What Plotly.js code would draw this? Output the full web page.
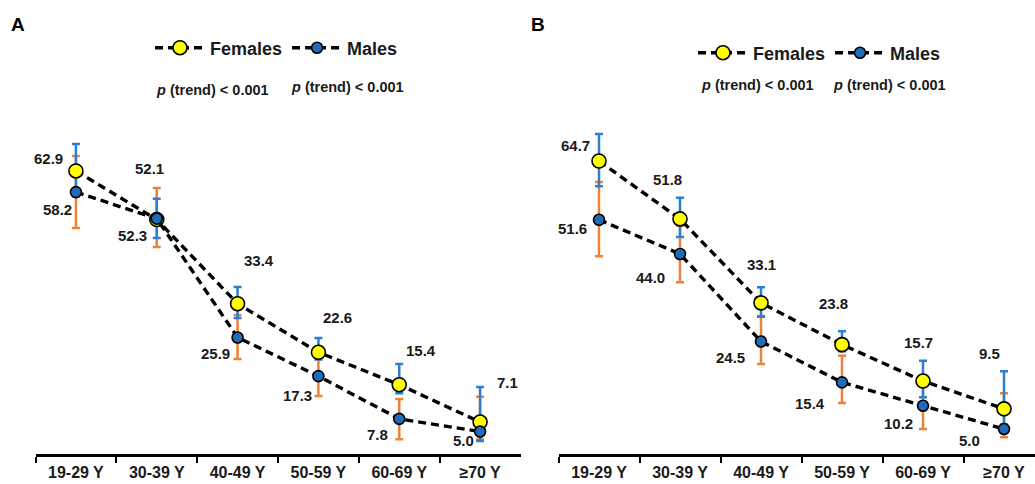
<!DOCTYPE html>
<html>
<head>
<meta charset="utf-8">
<script src="https://cdn.plot.ly/plotly-3.0.1.min.js"></script>
<style>html,body{margin:0;padding:0;background:#fff;}#chart{width:1035px;height:484px;}</style>
</head>
<body>
<div id="chart"></div>
<script>
// ---------- DATA ----------
const ageGroups = ["19-29 Y", "30-39 Y", "40-49 Y", "50-59 Y", "60-69 Y", "\u226570 Y"];

// Panel A
const femalesA   = [62.9, 52.1, 33.4, 22.6, 15.4, 7.1];
const femalesALo = [57.3, 48.0, 30.2, 21.0, 13.5, 2.9];
const femalesAHi = [68.9, 56.7, 37.1, 25.8, 20.0, 14.9];
const malesA     = [58.2, 52.3, 25.9, 17.3, 7.8, 5.0];
const malesALo   = [50.2, 46.0, 21.1, 12.9, 3.3, 3.3];
const malesAHi   = [66.2, 59.1, 30.9, 21.5, 12.2, 12.7];

// Panel B
const femalesB   = [64.7, 51.8, 33.1, 23.8, 15.7, 9.5];
const femalesBLo = [59.1, 47.8, 30.0, 22.3, 12.1, 6.0];
const femalesBHi = [70.7, 56.5, 36.6, 26.8, 20.2, 17.9];
const malesB     = [51.6, 44.0, 24.5, 15.4, 10.2, 5.0];
const malesBLo   = [43.5, 37.7, 19.5, 10.8, 5.0, 3.2];
const malesBHi   = [60.0, 50.3, 30.2, 21.3, 15.0, 13.0];

const pTrendText = "<i>p</i> (trend) &lt; 0.001";

// ---------- STYLE / LABEL PLACEMENT (pixel offsets, not data) ----------
const labelShiftFA = [[-27, 12], [-7, 51], [21, 43], [19, 35], [22, 34], [27, 40]];
const labelShiftMA = [[-18, -17], [-24, -17], [-22, -16], [-21, -19], [-22, -16], [-17, -9]];
const labelShiftFB = [[-24, 16], [-13, 39], [0, 38], [-9, 41], [-5, 39], [-15, 55]];
const labelShiftMB = [[-27, -9], [-30, -24], [-31, -16], [-32, -21], [-25, -18], [-35, -11]];

const FONT = "'Liberation Sans', Arial, sans-serif";
const TXT = "#1a1a1a";
const YELLOW = "#FFFF00";
const BLUE_MK = "#1F6CB8";
const BLUE_ERR = "#2A7FCF";
const ORANGE_ERR = "#EE8238";
const DASH = "8px,5px";

function errTrace(vals, lo, hi, color, xa, ya) {
  return {
    type: "scatter", mode: "markers", x: ageGroups, y: vals,
    xaxis: xa, yaxis: ya, showlegend: false, hoverinfo: "skip",
    marker: {opacity: 0, size: 2},
    error_y: {
      type: "data", symmetric: false,
      array: hi.map((h, i) => h - vals[i]),
      arrayminus: lo.map((l, i) => vals[i] - l),
      color: color, thickness: 2.5, width: 4
    }
  };
}
function lineTrace(vals, name, fill, size, xa, ya, legend) {
  return {
    type: "scatter", mode: "lines+markers", x: ageGroups, y: vals, name: name,
    xaxis: xa, yaxis: ya, legend: legend,
    line: {color: "#000", width: 3.4, dash: DASH},
    marker: {color: fill, size: size, line: {color: "#000", width: 1.6}}
  };
}

const data = [
  errTrace(malesA, malesALo, malesAHi, ORANGE_ERR, "x", "y"),
  errTrace(femalesA, femalesALo, femalesAHi, BLUE_ERR, "x", "y"),
  lineTrace(femalesA, "Females", YELLOW, 14, "x", "y", "legend"),
  lineTrace(malesA, "Males", BLUE_MK, 11, "x", "y", "legend"),
  errTrace(malesB, malesBLo, malesBHi, ORANGE_ERR, "x2", "y2"),
  errTrace(femalesB, femalesBLo, femalesBHi, BLUE_ERR, "x2", "y2"),
  lineTrace(femalesB, "Females", YELLOW, 14, "x2", "y2", "legend2"),
  lineTrace(malesB, "Males", BLUE_MK, 11, "x2", "y2", "legend2")
];

const annotations = [];
function addLabels(vals, shifts, xa, ya) {
  vals.forEach((v, i) => {
    annotations.push({
      x: ageGroups[i], y: v, xref: xa, yref: ya, showarrow: false,
      xanchor: "center", yanchor: "middle",
      text: v.toFixed(1), xshift: shifts[i][0], yshift: shifts[i][1],
      font: {family: FONT, size: 15, color: TXT, weight: "bold"}
    });
  });
}
addLabels(femalesA, labelShiftFA, "x", "y");
addLabels(malesA, labelShiftMA, "x", "y");
addLabels(femalesB, labelShiftFB, "x2", "y2");
addLabels(malesB, labelShiftMB, "x2", "y2");

const pFont = {family: FONT, size: 14.5, color: TXT, weight: "bold"};
function paperText(xPx, yPx, text, font) {
  return {xref: "paper", yref: "paper", x: xPx/1035, y: 1 - yPx/454, text: text, showarrow: false,
          xanchor: "center", yanchor: "middle", font: font};
}
const letterFont = {family: FONT, size: 19, color: "#000", weight: "bold"};
annotations.push(
  paperText(212, 90, pTrendText, pFont),
  paperText(347, 87, pTrendText, pFont),
  paperText(757, 85, pTrendText, pFont),
  paperText(889, 85, pTrendText, pFont),
  paperText(18, 25, "A", letterFont),
  paperText(538, 25, "B", letterFont)
);

const xBase = {
  type: "category", categoryorder: "array", categoryarray: ageGroups,
  tickson: "boundaries", ticks: "outside", ticklen: 6, tickwidth: 2, tickcolor: "#000",
  showline: true, linewidth: 3, linecolor: "#000", showgrid: false, zeroline: false,
  tickfont: {family: FONT, size: 16, color: TXT, weight: "bold"}, ticklabelstandoff: 2,
  fixedrange: true
};
const yBase = {showgrid: false, zeroline: false, showline: false, showticklabels: false, ticks: "", fixedrange: true};

const legendBase = {
  orientation: "h", xanchor: "left", yanchor: "middle",
  bgcolor: "rgba(0,0,0,0)", borderwidth: 0, itemwidth: 50,
  font: {family: FONT, size: 18, color: TXT, weight: "bold"}, itemclick: false, itemdoubleclick: false
};

const layout = {
  width: 1035, height: 484,
  margin: {l: 0, r: 0, t: 0, b: 30},
  paper_bgcolor: "#fff", plot_bgcolor: "#fff",
  showlegend: true,
  xaxis: Object.assign({}, xBase, {domain: [35.5/1035, 520.5/1035], range: [-0.5, 5.5], anchor: "y"}),
  yaxis: Object.assign({}, yBase, {range: [0, 454/4.5], anchor: "x"}),
  xaxis2: Object.assign({}, xBase, {domain: [558.5/1035, 1], range: [-0.5, -0.5 + (1035-558.5)/81], anchor: "y2"}),
  yaxis2: Object.assign({}, yBase, {range: [-2.5/4.49, 451.5/4.49], anchor: "x2"}),
  legend: Object.assign({}, legendBase, {x: 150/1035, y: 1 - 48/454}),
  legend2: Object.assign({}, legendBase, {x: 693/1035, y: 1 - 53/454}),
  annotations: annotations
};

Plotly.newPlot("chart", data, layout, {staticPlot: true, displayModeBar: false});
</script>
</body>
</html>
